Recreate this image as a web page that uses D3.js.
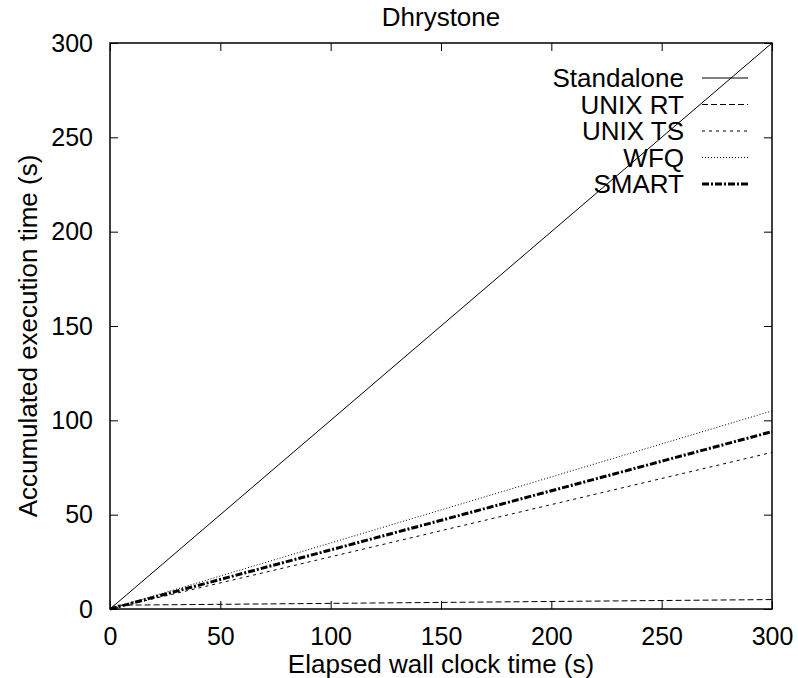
<!DOCTYPE html>
<html>
<head>
<meta charset="utf-8">
<script src="https://cdn.jsdelivr.net/npm/d3@7"></script>
<style>
  body { margin: 0; background: #fff; }
  text { font-family: "Liberation Sans", Arial, sans-serif; font-size: 26px; fill: #000; }
</style>
</head>
<body>
<div id="chart"></div>
<script>
// data
let seriesNames = ["Standalone", "UNIX RT", "UNIX TS", "WFQ", "SMART"];
let standalone = [[0, 0], [300, 300]];
let unixRT = [[0, 0], [2, 2], [300, 5]];
let unixTS = [[0, 0], [300, 83]];
let wfq = [[0, 0], [300, 105]];
let smart = [[0, 0], [300, 94]];
let xTicks = [0, 50, 100, 150, 200, 250, 300];
let yTicks = [0, 50, 100, 150, 200, 250, 300];

let svgWidth = 798;
let svgHeight = 678;
let margin = { top: 43, right: 26, bottom: 69, left: 110 };
let width = svgWidth - margin.left - margin.right;
let height = svgHeight - margin.top - margin.bottom;

let svg = d3.select("#chart").append("svg")
    .attr("width", svgWidth)
    .attr("height", svgHeight);

let chartGroup = svg.append("g")
    .attr("transform", `translate(${margin.left}, ${margin.top})`);

let x = d3.scaleLinear().domain([0, 300]).range([0, width]);
let y = d3.scaleLinear().domain([0, 300]).range([height, 0]);

// ticks point inward, mirrored on all sides
let tickLen = 8;
chartGroup.append("g")
    .attr("transform", `translate(0, ${height})`)
    .call(d3.axisBottom(x).tickValues(xTicks).tickSizeInner(-tickLen).tickSizeOuter(0).tickPadding(18))
    .call(g => g.select(".domain").remove());
chartGroup.append("g")
    .call(d3.axisTop(x).tickValues(xTicks).tickSizeInner(-tickLen).tickSizeOuter(0).tickFormat(""))
    .call(g => g.select(".domain").remove());
chartGroup.append("g")
    .call(d3.axisLeft(y).tickValues(yTicks).tickSizeInner(-tickLen).tickSizeOuter(0).tickPadding(17))
    .call(g => g.select(".domain").remove());
chartGroup.append("g")
    .attr("transform", `translate(${width}, 0)`)
    .call(d3.axisRight(y).tickValues(yTicks).tickSizeInner(-tickLen).tickSizeOuter(0).tickFormat(""))
    .call(g => g.select(".domain").remove());

chartGroup.selectAll(".tick text")
    .style("font-size", "25px")
    .style("font-family", "Liberation Sans, Arial, sans-serif")
    .attr("fill", "#000");
chartGroup.selectAll(".tick line").attr("stroke", "#000");

// frame
chartGroup.append("rect")
    .attr("width", width)
    .attr("height", height)
    .attr("fill", "none")
    .attr("stroke", "#000")
    .attr("stroke-width", 1.5);

let styles = [
    { data: standalone, dash: null, w: 1 },
    { data: unixRT, dash: "6,3", w: 1 },
    { data: unixTS, dash: "3,4", w: 1 },
    { data: wfq, dash: "1,2", w: 1 },
    { data: smart, dash: "7,2,2,2", w: 3 }
];

let line = d3.line().x(d => x(d[0])).y(d => y(d[1]));

chartGroup.selectAll(".series")
    .data(styles)
    .join("path")
    .attr("class", "series")
    .attr("d", d => line(d.data))
    .attr("fill", "none")
    .attr("stroke", "#000")
    .attr("stroke-width", d => d.w)
    .attr("stroke-dasharray", d => d.dash);

// legend
let legend = chartGroup.append("g");
seriesNames.forEach((name, i) => {
    let ly = 35 + i * 26.5;
    legend.append("text")
        .attr("x", 574)
        .attr("y", ly)
        .attr("dy", "0.35em")
        .attr("text-anchor", "end")
        .text(name);
    legend.append("line")
        .attr("x1", 592)
        .attr("x2", 638)
        .attr("y1", ly)
        .attr("y2", ly)
        .attr("stroke", "#000")
        .attr("stroke-width", styles[i].w)
        .attr("stroke-dasharray", styles[i].dash);
});

// title and axis labels
svg.append("text")
    .attr("x", margin.left + width / 2)
    .attr("y", 26)
    .attr("text-anchor", "middle")
    .text("Dhrystone");

svg.append("text")
    .attr("x", margin.left + width / 2)
    .attr("y", 673)
    .attr("text-anchor", "middle")
    .text("Elapsed wall clock time (s)");

svg.append("text")
    .attr("transform", `translate(37, 336) rotate(-90)`)
    .attr("text-anchor", "middle")
    .text("Accumulated execution time (s)");
</script>
</body>
</html>
